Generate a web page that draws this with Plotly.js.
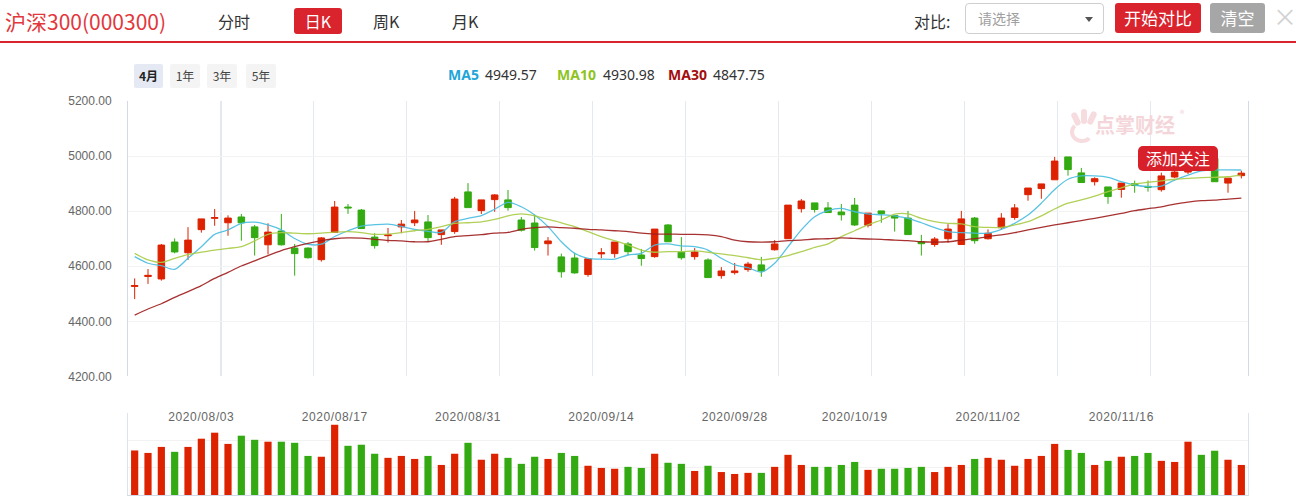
<!DOCTYPE html>
<html>
<head>
<meta charset="utf-8">
<script src="https://cdn.plot.ly/plotly-3.0.1.min.js"></script>
<style>
  body { margin: 0; width: 1296px; height: 497px; overflow: hidden; background: #fff; position: relative;
         font-family: 'Noto Sans CJK SC', 'Noto Sans', sans-serif; color: #333; }
  #chart { position: absolute; left: 0; top: 0; width: 1296px; height: 497px; }
  .abs { position: absolute; white-space: nowrap; z-index: 2; }
  .tab { top: 8px; line-height: 26px; font-size: 16px; color: #333; }
  .btn { top: 3px; height: 30px; line-height: 30px; text-align: center; color: #fff; font-size: 16px; border-radius: 3px; }
  .per { top: 64px; height: 24px; line-height: 24px; width: 30px; text-align: center; font-size: 12px; color: #444; background: #f4f4f4; border-radius: 2px; }
  .ma { top: 64px; line-height: 22px; font-size: 14px; font-family: 'Noto Sans', sans-serif; }
  .ma b { font-weight: bold; }
  .xtick text { letter-spacing: 0.6px; }
  .paw { position: absolute; background: #f6dcdf; border-radius: 4px; z-index: 1; }
</style>
</head>
<body>
<div id="chart"></div>

<!-- header -->
<div class="abs" style="left:5px;top:6px;font-size:21px;line-height:30px;color:#e2373c;">沪深300(000300)</div>
<div class="abs tab" style="left:218px;">分时</div>
<div class="abs btn" style="left:294px;top:8px;width:48px;height:26px;line-height:26px;background:#d9232d;">日K</div>
<div class="abs tab" style="left:373px;">周K</div>
<div class="abs tab" style="left:452px;">月K</div>

<div class="abs tab" style="left:914px;">对比:</div>
<div class="abs" style="left:965px;top:3px;width:137px;height:29px;border:1px solid #cfcfcf;border-radius:4px;background:#fff;">
  <span style="position:absolute;left:12px;top:0;line-height:29px;font-size:14px;color:#a0a0a0;">请选择</span>
  <span style="position:absolute;left:119px;top:13px;width:0;height:0;border-left:4px solid transparent;border-right:4px solid transparent;border-top:5px solid #555;"></span>
</div>
<div class="abs btn" style="left:1115px;width:86px;background:#d9232d;font-size:17px;">开始对比</div>
<div class="abs btn" style="left:1210px;width:55px;background:#a6a6a6;font-size:17px;">清空</div>
<div class="abs" style="left:1273px;top:3px;font-size:24px;line-height:26px;color:#d2d2d2;">×</div>
<div class="abs" style="left:0;top:41px;width:1296px;height:2px;background:#d9232d;"></div>

<!-- period buttons -->
<div class="abs per" style="left:134px;width:29px;background:#e4e9f3;font-weight:bold;color:#222;">4月</div>
<div class="abs per" style="left:170px;">1年</div>
<div class="abs per" style="left:207px;">3年</div>
<div class="abs per" style="left:246px;">5年</div>

<!-- MA legend -->
<div class="abs ma" style="left:448px;"><b style="color:#1fa6d8;">MA5</b></div>
<div class="abs ma" style="left:485px;" id="ma5v"></div>
<div class="abs ma" style="left:557px;"><b style="color:#8fc31f;">MA10</b></div>
<div class="abs ma" style="left:603px;" id="ma10v"></div>
<div class="abs ma" style="left:668px;"><b style="color:#a30d0d;">MA30</b></div>
<div class="abs ma" style="left:713px;" id="ma30v"></div>

<!-- watermark -->
<div class="paw" style="left:1073px;top:112px;width:6px;height:14px;transform:rotate(-25deg);"></div>
<div class="paw" style="left:1081px;top:109px;width:6px;height:15px;"></div>
<div class="paw" style="left:1089px;top:111px;width:6px;height:14px;transform:rotate(25deg);"></div>
<div class="paw" style="left:1070px;top:121px;width:16px;height:14px;background:transparent;border:4px solid #f6dcdf;border-top-color:transparent;border-right-color:transparent;border-radius:50%;"></div>
<div class="abs" style="left:1095px;top:113px;font-size:20px;line-height:24px;font-weight:bold;color:#f4d6da;z-index:1;">点掌财经</div>
<div class="abs" style="left:1180px;top:107px;font-size:9px;color:#f1d2d6;z-index:1;">®</div>

<div class="abs" style="left:1138px;top:146px;width:80px;height:25px;line-height:25px;border-radius:5px;background:#d8202b;color:#fff;font-size:16px;text-align:center;z-index:3;">添加关注</div>

<script>
// trading days shown (2020/07/27 - 2020/11/27)
var dates = [
  '2020/07/27','2020/07/28','2020/07/29','2020/07/30','2020/07/31',
  '2020/08/03','2020/08/04','2020/08/05','2020/08/06','2020/08/07',
  '2020/08/10','2020/08/11','2020/08/12','2020/08/13','2020/08/14',
  '2020/08/17','2020/08/18','2020/08/19','2020/08/20','2020/08/21',
  '2020/08/24','2020/08/25','2020/08/26','2020/08/27','2020/08/28',
  '2020/08/31','2020/09/01','2020/09/02','2020/09/03','2020/09/04',
  '2020/09/07','2020/09/08','2020/09/09','2020/09/10','2020/09/11',
  '2020/09/14','2020/09/15','2020/09/16','2020/09/17','2020/09/18',
  '2020/09/21','2020/09/22','2020/09/23','2020/09/24','2020/09/25',
  '2020/09/28','2020/09/29','2020/09/30','2020/10/09',
  '2020/10/12','2020/10/13','2020/10/14','2020/10/15','2020/10/16',
  '2020/10/19','2020/10/20','2020/10/21','2020/10/22','2020/10/23',
  '2020/10/26','2020/10/27','2020/10/28','2020/10/29','2020/10/30',
  '2020/11/02','2020/11/03','2020/11/04','2020/11/05','2020/11/06',
  '2020/11/09','2020/11/10','2020/11/11','2020/11/12','2020/11/13',
  '2020/11/16','2020/11/17','2020/11/18','2020/11/19','2020/11/20',
  '2020/11/23','2020/11/24','2020/11/25','2020/11/26','2020/11/27'
];

var open = [4527,4563,4554,4688,4649, 4733,4774,4758,4779,4743, 4678,4728,4666,4666,4624,
  4723,4815,4804,4706,4711, 4743,4758,4761,4715,4726, 4870,4802,4842,4841,4768,
  4757,4682,4634,4630,4570, 4645,4646,4681,4641,4635, 4750,4651,4635,4623,4566,
  4577,4588,4605,4660, 4700,4809,4830,4812,4797, 4822,4749,4801,4784,4775,
  4689,4679,4700,4679,4775, 4700,4740,4777,4860,4882, 4914,4997,4939,4907,4888,
  4879,4900,4890,4878,4924, 4942,5002,4992,4902,4929];
var high = [4556,4590,4681,4701,4742, 4772,4808,4785,4790,4750, 4756,4790,4681,4669,4706,
  4837,4826,4808,4720,4739, 4768,4801,4786,4732,4852, 4902,4841,4862,4877,4779,
  4787,4706,4646,4649,4627, 4666,4688,4688,4663,4735, 4753,4706,4666,4629,4597,
  4612,4616,4634,4695, 4822,4844,4830,4833,4826, 4848,4793,4801,4786,4801,
  4714,4706,4753,4801,4779, 4734,4793,4826,4884,4899, 4997,4997,4957,4923,4888,
  4902,4911,4911,4940,4956, 5005,5015,4992,4920,4947];
var low = [4481,4536,4548,4647,4623, 4722,4747,4711,4693,4639, 4643,4675,4566,4628,4617,
  4723,4790,4737,4664,4686, 4720,4746,4689,4678,4718, 4813,4790,4798,4802,4726,
  4657,4639,4559,4573,4562, 4629,4631,4640,4602,4631, 4689,4624,4624,4559,4555,
  4570,4580,4562,4657, 4700,4795,4795,4795,4766, 4746,4741,4758,4726,4715,
  4639,4671,4686,4679,4682, 4697,4733,4769,4838,4845, 4914,4929,4904,4893,4827,
  4849,4867,4871,4871,4920, 4935,4978,4907,4867,4919];
var close = [4530,4567,4677,4652,4695, 4772,4777,4775,4758,4704, 4724,4678,4646,4631,4703,
  4815,4812,4737,4675,4714, 4753,4768,4704,4732,4844, 4813,4841,4859,4813,4731,
  4668,4692,4580,4576,4627, 4649,4688,4653,4628,4735, 4689,4631,4652,4559,4583,
  4583,4608,4583,4681, 4822,4837,4806,4795,4787, 4750,4793,4791,4775,4715,
  4682,4699,4735,4772,4693, 4720,4775,4812,4884,4899, 4982,4951,4904,4918,4853,
  4902,4893,4887,4928,4942, 4998,4988,4907,4920,4938];

var ma5 = [4635,4611,4602,4589,4629, 4671,4716,4732,4756,4760, 4750,4732,4701,4680,4680,
  4708,4729,4746,4751,4753, 4745,4734,4727,4723,4762, 4774,4784,4807,4832,4816,
  4786,4744,4689,4647,4629, 4626,4626,4641,4647,4677, 4681,4674,4671,4659,4629,
  4605,4595,4579,4611, 4671,4732,4780,4802,4810, 4798,4790,4787,4783,4774,
  4758,4740,4726,4722,4720, 4720,4734,4756,4786,4829, 4879,4916,4928,4928,4923,
  4907,4895,4889,4891,4913, 4931,4946,4950,4950,4949.57];
var ma10 = [4647,4623,4614,4629,4642, 4651,4659,4665,4671,4692, 4716,4722,4720,4718,4720,
  4724,4726,4722,4716,4717, 4722,4729,4734,4744,4756, 4758,4761,4770,4783,4790,
  4783,4770,4758,4744,4726, 4708,4693,4677,4659,4651, 4653,4653,4656,4651,4645,
  4639,4631,4623,4629, 4639,4653,4669,4681,4708, 4729,4750,4768,4789,4790,
  4774,4762,4756,4754,4744, 4741,4741,4750,4762,4783, 4808,4829,4841,4855,4871,
  4885,4899,4905,4910,4916, 4919,4922,4923,4925,4930.98];
var ma30 = [4423,4445,4464,4487,4508, 4530,4556,4578,4601,4620, 4639,4657,4671,4683,4693,
  4700,4703,4702,4698,4694, 4692,4689,4689,4698,4708, 4711,4715,4720,4723,4734,
  4740,4743,4740,4738,4734, 4732,4729,4726,4720,4717, 4717,4716,4716,4714,4708,
  4695,4689,4688,4689, 4693,4695,4699,4700,4703, 4701,4699,4698,4695,4693,
  4689,4688,4689,4695,4700, 4708,4714,4722,4732,4741, 4750,4758,4766,4774,4783,
  4792,4802,4809,4816,4826, 4833,4838,4840,4844,4847.75];

// volume (relative units)
var volume = [163,154,176,158,176, 206,228,187,217,202, 195,195,191,143,140,
  257,180,184,151,136, 143,132,143,110,151, 191,129,151,136,114,
  140,132,154,143,107, 99,96,103,99,151, 118,114,88,107,84,
  77,81,81,103, 147,110,103,103,110, 121,92,96,96,99,
  103,84,103,110,132, 136,129,107,132,143, 187,165,154,110,125,
  140,143,154,125,121, 195,147,162,129,110];

var labelIdx = [5, 15, 25, 35, 45, 54, 64, 74];

var last = close.length - 1;
document.getElementById('ma5v').textContent = ma5[last].toFixed(2);
document.getElementById('ma10v').textContent = ma10[last].toFixed(2);
document.getElementById('ma30v').textContent = ma30[last].toFixed(2);

var idx = dates.map(function (d, i) { return i; });
var up = '#dd2200', down = '#33aa11';
var volColors = close.map(function (c, i) { return c >= open[i] ? up : down; });

// vertical split lines of the price panel (11 inner lines)
var splitVals = [];
for (var k = 1; k <= 11; k++) splitVals.push(-0.5 + 6.97 * k);

function maLine(vals, color) {
  return {
    type: 'scatter', mode: 'lines', x: idx, y: vals, xaxis: 'x', yaxis: 'y',
    line: { color: color, width: 1.3, shape: 'spline', smoothing: 0.8 },
    opacity: 0.9, hoverinfo: 'skip'
  };
}

var data = [
  {
    type: 'candlestick', x: idx, open: open, high: high, low: low, close: close,
    xaxis: 'x', yaxis: 'y', whiskerwidth: 0, hoverinfo: 'skip',
    increasing: { line: { color: up, width: 1 }, fillcolor: up },
    decreasing: { line: { color: down, width: 1 }, fillcolor: down }
  },
  maLine(ma5, '#48bce0'),
  maLine(ma10, '#a8cb45'),
  maLine(ma30, '#9e1c1c'),
  {
    type: 'bar', x: idx, y: volume, xaxis: 'x2', yaxis: 'y2',
    width: 0.54, marker: { color: volColors }, hoverinfo: 'skip'
  }
];

var layout = {
  width: 1296, height: 497,
  margin: { l: 128, r: 48, t: 0, b: 0 },
  paper_bgcolor: 'rgba(0,0,0,0)', plot_bgcolor: 'rgba(0,0,0,0)',
  showlegend: false,
  font: { family: 'Liberation Sans, Arial, sans-serif', size: 12, color: '#666' },
  xaxis: {
    anchor: 'y', range: [-0.5, 83.5], rangeslider: { visible: false },
    tickmode: 'array', tickvals: labelIdx,
    ticktext: labelIdx.map(function (i) { return dates[i]; }),
    ticks: '', ticklabelstandoff: 32, showgrid: false, zeroline: false, showline: false,
    tickfont: { size: 12, color: '#666' },
    minor: { tickmode: 'array', tickvals: splitVals, showgrid: true,
             gridcolor: '#e4e9f0', gridwidth: 1.2, ticks: '' }
  },
  yaxis: {
    anchor: 'x', domain: [0.2425, 0.7968], range: [4200, 5200],
    tick0: 4200, dtick: 200, tickformat: '.2f', ticks: '', ticklabelstandoff: 13,
    showgrid: true, gridcolor: '#f3f3f3', zeroline: false,
    showline: true, linecolor: '#d2dae7', mirror: true,
    tickfont: { size: 12, color: '#666' }
  },
  xaxis2: {
    anchor: 'y2', matches: 'x', showticklabels: false, ticks: '',
    showgrid: false, zeroline: false, showline: true, linecolor: '#d2dae7'
  },
  yaxis2: {
    anchor: 'x2', domain: [0.004, 0.169], range: [0, 300], dtick: 100,
    showticklabels: false, ticks: '', gridcolor: '#f2f2f2', zeroline: false,
    showline: true, linecolor: '#dde3ec', mirror: true
  }
};

Plotly.newPlot('chart', data, layout, { staticPlot: true, displayModeBar: false });
</script>
</body>
</html>
